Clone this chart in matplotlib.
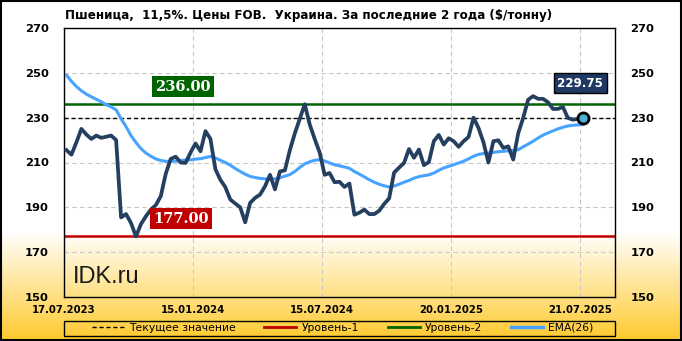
import numpy as np
import matplotlib
matplotlib.use("Agg")
import matplotlib.pyplot as plt
from matplotlib.lines import Line2D

title = "Пшеница,  11,5%. Цены FOB.  Украина. За последние 2 года ($/тонну)"

price = [215.5, 213.5, 219, 225, 222.5, 220.5, 222, 221, 221.5, 222,
         220, 185.5, 187, 183, 177, 182.5, 186, 189, 191, 195,
         205, 211.6, 212.6, 210, 209.8, 214.5, 218.5, 215, 224, 220.5,
         207, 202.3, 199, 193.5, 191.7, 190, 183.3, 192, 194.2, 195.7,
         199.4, 204.5, 198, 206, 206.5, 215.5, 223, 229.5, 236, 227,
         220.5, 214.5, 204.5, 205.3, 201.2, 201.4, 199.1, 200.6, 186.7, 187.6,
         189, 187, 187, 188.5, 191.5, 194, 205.5, 207.7, 209.8, 216,
         212.1, 215.8, 208.8, 210.2, 219.5, 222.3, 218, 220.8, 219.5, 217,
         219.5, 221.4, 230, 225.4, 219, 210, 219.5, 219.9, 216.5, 217.2,
         211.3, 223, 229.9, 238, 239.6, 238.4, 238.4, 236.9, 233.9, 233.9,
         234.8, 229.9, 229.1, 229.4, 229.75]

ema26 = [249, 246.2, 243.9, 242, 240.5, 239.3, 238.2, 237.1, 235.8, 234.8,
         233.5, 229.5, 226, 222, 218.9, 216.2, 214.2, 212.8, 211.6, 210.9,
         210.5, 210.5, 210.6, 210.9, 211.1, 211.2, 211.5, 211.7, 212.2, 212.7,
         212, 211, 210, 208.8, 207.3, 206, 204.8, 203.8, 203.3, 202.9,
         202.7, 202.7, 202.7, 203.2, 203.9, 204.6, 206, 207.8, 209.4, 210.3,
         211, 211.2, 210.7, 209.8, 209, 208.5, 208, 207.4, 206, 204.8,
         203.6, 202.3, 201.2, 200.3, 199.6, 199.1, 199.5, 200.3, 201.2, 202,
         203, 203.7, 204.1, 204.5, 205.3, 206.5, 207.6, 208.3, 209, 209.8,
         210.6, 211.6, 212.8, 213.6, 214, 214.2, 214.5, 214.8, 215, 215.2,
         215.4, 215.7, 217, 218.2, 219.5, 220.9, 222.2, 223.2, 224.1, 225,
         225.7, 226.3, 226.6, 226.8, 226.9]

current_value = 229.75
level_1 = 177.00
level_2 = 236.00

x_tick_pos = [0, 26, 52, 78, 104]
x_tick_labels = ["17.07.2023", "15.01.2024", "15.07.2024", "20.01.2025", "21.07.2025"]
y_ticks = [150, 170, 190, 210, 230, 250, 270]
legend_labels = ["Текущее значение", "Уровень-1", "Уровень-2", "EMA(26)"]

W, H = 682, 341
fig = plt.figure(figsize=(W / 100, H / 100), dpi=100)
fig.patch.set_facecolor("white")
renderer = fig.canvas.get_renderer()


def fit_size(s, target_px, **props):
    t = fig.text(0, 0, s, fontsize=10, **props)
    w = t.get_window_extent(renderer).width
    t.remove()
    return 10 * target_px / w


# gradient background
bg = fig.add_axes([0, 0, 1, 1], zorder=-10)
bg.set_axis_off()
ny = 341
t = np.linspace(0, 1, ny)  # 0 = top, 1 = bottom
start = 232 / 341
f = np.clip((t - start) / (1 - start), 0, 1)
top_c = np.array([1.0, 1.0, 1.0])
bot_c = np.array([255, 202, 45]) / 255
img = top_c[None, :] * (1 - f[:, None]) + bot_c[None, :] * f[:, None]
img = np.repeat(img[:, None, :], 2, axis=1)
bg.imshow(img, aspect="auto", extent=[0, 1, 0, 1], origin="upper")
bg.set_xlim(0, 1)
bg.set_ylim(0, 1)
bg.add_patch(plt.Rectangle((0.001, 0.002), 0.997, 0.996, fill=False,
                           edgecolor="black", linewidth=1.5))

L, R, T, B = 64, 615, 28, 297
ax = fig.add_axes([L / W, 1 - B / H, (R - L) / W, (B - T) / H])
ax.set_facecolor("none")

xs = np.arange(len(price)) + 0.5
ax.set_xlim(0, 111)
ax.set_ylim(150, 270)

bold = dict(fontweight="bold", fontfamily="DejaVu Sans")
xs_size = fit_size("15.01.2024", 64, **bold)
ys_size = fit_size("270", 24, **bold)

ax.set_yticks(y_ticks)
ax.set_xticks(x_tick_pos)
ax.set_xticklabels(x_tick_labels)
ax.grid(True, color="#c8c8c8", linestyle=(0, (4, 3)), linewidth=0.8)
ax.set_axisbelow(True)
ax.tick_params(axis="y", length=0, labelleft=True, labelright=True, pad=11)
ax.tick_params(axis="x", length=0, pad=6)
for lab in ax.get_xticklabels():
    lab.set(fontsize=xs_size, **bold)
for lab in ax.get_yticklabels():
    lab.set(fontsize=ys_size, **bold)
for s in ax.spines.values():
    s.set_color("black")
    s.set_linewidth(1)

ax.axhline(level_1, color="#c00000", linewidth=1.8, zorder=2)
ax.axhline(level_2, color="#006400", linewidth=1.8, zorder=2)
ax.axhline(current_value, color="black", linewidth=1, linestyle=(0, (3, 2)), zorder=2)

ax.plot(xs, ema26, color="#47a3ff", linewidth=2.2, zorder=3, solid_capstyle="round")
ax.plot(xs, price, color="#243f60", linewidth=2.7, zorder=4, solid_joinstyle="round")
ax.plot([xs[-1]], [price[-1]], marker="o", markersize=8, markerfacecolor="#4fb3d9",
        markeredgecolor="black", markeredgewidth=2, zorder=5)

lvl_size = fit_size("236.00", 56, fontweight="bold", fontfamily="DejaVu Serif")
ax.text(24, 243.9, f"{level_2:.2f}", color="white", fontsize=lvl_size, fontweight="bold",
        ha="center", va="center", fontfamily="DejaVu Serif",
        bbox=dict(boxstyle="square,pad=0.22", facecolor="#006400", edgecolor="none"), zorder=6)
ax.text(23.6, 185.0, f"{level_1:.2f}", color="white", fontsize=lvl_size, fontweight="bold",
        ha="center", va="center", fontfamily="DejaVu Serif",
        bbox=dict(boxstyle="square,pad=0.22", facecolor="#c00000", edgecolor="none"), zorder=6)
cur_size = fit_size("229.75", 46, **bold)
ax.text(104, 245.4, f"{current_value:.2f}", color="white", fontsize=cur_size,
        ha="center", va="center", **bold,
        bbox=dict(boxstyle="square,pad=0.3", facecolor="#1f3864", edgecolor="black", linewidth=1), zorder=6)

idk_size = fit_size("IDK.ru", 67, fontfamily="Liberation Sans")
ax.text(1.8, 159, "IDK.ru", fontsize=idk_size, color="#1a1a1a", fontfamily="Liberation Sans",
        ha="left", va="center", zorder=6)

title_size = fit_size(title, 485, **bold)
fig.text(65 / W, 1 - 15 / H, title, fontsize=title_size, ha="left", va="center", **bold)

handles = [
    Line2D([], [], color="black", linestyle=(0, (3, 2)), linewidth=1),
    Line2D([], [], color="#c00000", linewidth=2),
    Line2D([], [], color="#006400", linewidth=2),
    Line2D([], [], color="#47a3ff", linewidth=2.5),
]
leg_size = fit_size(legend_labels[0], 106, fontfamily="DejaVu Sans")
em = leg_size * 100 / 72
leg = fig.legend(handles, legend_labels, ncol=4, loc="center",
                 bbox_to_anchor=((L + R) / 2 / W + 3 / W, 1 - 328 / H),
                 frameon=False, prop=dict(family="DejaVu Sans", size=leg_size),
                 handlelength=32 / em, handletextpad=5 / em, columnspacing=29 / em,
                 borderpad=0, borderaxespad=0)
fig.add_artist(plt.Rectangle((L / W, 1 - 336 / H), (R - L) / W, 15.5 / H, fill=False,
                             edgecolor="black", linewidth=1, transform=fig.transFigure))

fig.savefig("out.png", dpi=100)
